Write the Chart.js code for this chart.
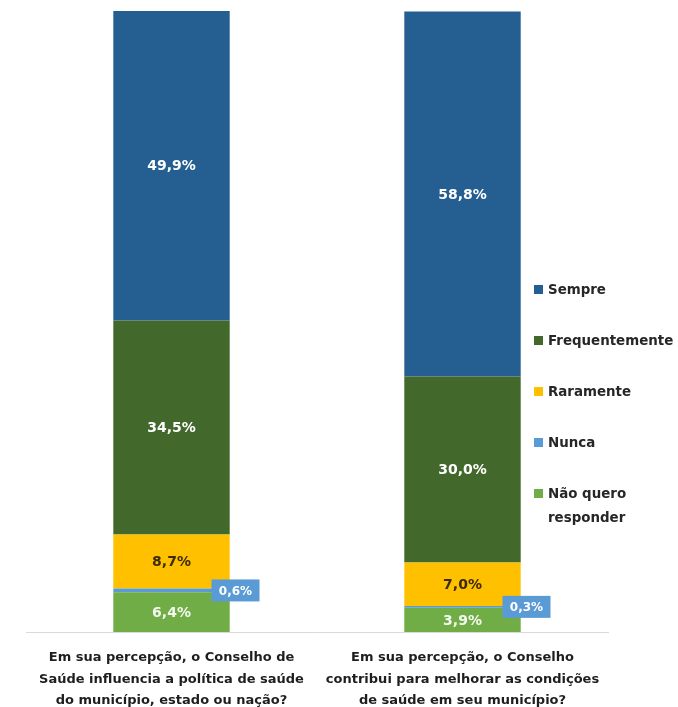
<!DOCTYPE html>
<html lang="pt-BR">
<head>
<meta charset="utf-8">
<title>Conselho de Saúde</title>
<script src="https://cdn.jsdelivr.net/npm/chart.js@4.4.1/dist/chart.umd.min.js"></script>
<style>
  html, body { margin: 0; padding: 0; background: #fff; }
  #wrap { position: relative; width: 678px; height: 707px; }
  #legend { position: absolute; left: 534px; top: 0; font-family: "DejaVu Sans", sans-serif; font-weight: bold; font-size: 13.4px; color: #262626; }
  #legend .item { position: absolute; left: 0; white-space: nowrap; line-height: 24px; }
  #legend .box { display: inline-block; width: 9px; height: 9px; margin-right: 5px; vertical-align: 0px; }
</style>
</head>
<body>
<div id="wrap">
  <canvas id="chart" width="678" height="707"></canvas>
  <div id="legend"></div>
</div>
<script>
/* ---------------- Data ---------------- */
const questions = [
  ['Em sua percepção, o Conselho de', 'Saúde influencia a política de saúde', 'do município, estado ou nação?'],
  ['Em sua percepção, o Conselho', 'contribui para melhorar as condições', 'de saúde em seu município?']
];
// stacked bottom -> top
const answers = ['Não quero responder', 'Nunca', 'Raramente', 'Frequentemente', 'Sempre'];
const naoQuero = [6.4, 3.9];
const nunca = [0.6, 0.3];
const raramente = [8.7, 7.0];
const frequentemente = [34.5, 30.0];
const sempre = [49.9, 58.8];
const colors = ['#70AD47', '#5B9BD5', '#FFC000', '#43682B', '#255E91'];
const labelColors = ['#f4f9ef', '#ffffff', '#3b2c05', '#ffffff', '#ffffff'];

const series = [naoQuero, nunca, raramente, frequentemente, sempre];
const FONT = '"DejaVu Sans", sans-serif';

/* ---------------- Value labels ---------------- */
const fmt = v => v.toFixed(1).replace('.', ',') + '%';

const valueLabels = {
  id: 'valueLabels',
  afterDatasetsDraw(chart) {
    const ctx = chart.ctx;
    ctx.save();
    ctx.font = 'bold 14px ' + FONT;
    ctx.textAlign = 'center';
    ctx.textBaseline = 'middle';
    chart.data.datasets.forEach((ds, i) => {
      const meta = chart.getDatasetMeta(i);
      meta.data.forEach((bar, j) => {
        const { x, y, base } = bar.getProps(['x', 'y', 'base'], true);
        const cy = (y + base) / 2;
        const text = fmt(ds.data[j]);
        if (answers[i] === 'Nunca') {
          // tiny slice: callout box to the right of the bar
          ctx.font = 'bold 12px ' + FONT;
          const bx = x + 64;
          ctx.fillStyle = colors[i];
          ctx.fillRect(bx - 24, cy - 11, 48, 22);
          ctx.fillStyle = '#ffffff';
          ctx.fillText(text, bx, cy + 1);
          ctx.font = 'bold 14px ' + FONT;
        } else {
          ctx.fillStyle = labelColors[i];
          ctx.fillText(text, x, cy + 1);
        }
      });
    });
    ctx.restore();
  }
};

/* ---------------- Chart ---------------- */
const ctx = document.getElementById('chart').getContext('2d');
const chart = new Chart(ctx, {
  type: 'bar',
  data: {
    labels: questions,
    datasets: answers.map((name, i) => ({
      label: name,
      data: series[i],
      backgroundColor: colors[i],
      borderWidth: 0,
      barPercentage: 0.8,
      categoryPercentage: 0.5
    }))
  },
  options: {
    responsive: false,
    animation: false,
    layout: { padding: { top: 11, left: 26, right: 70, bottom: 0 } },
    plugins: {
      legend: { display: false },
      tooltip: { enabled: false }
    },
    scales: {
      x: {
        stacked: true,
        grid: { display: false },
        border: { display: true, color: '#d9d9d9', width: 1 },
        afterFit: scale => { scale.height = 75; },
        ticks: {
          color: '#1e1e1e',
          padding: 7,
          maxRotation: 0,
          autoSkip: false,
          font: { family: FONT, weight: 'bold', size: 13, lineHeight: 1.66 }
        }
      },
      y: {
        stacked: true,
        display: false,
        min: 0,
        max: 100.1
      }
    }
  },
  plugins: [valueLabels]
});

/* ---------------- Legend (top -> bottom = Sempre first) ---------------- */
const legendEl = document.getElementById('legend');
const legendTops = [278, 329, 380, 431, 482];
answers.slice().reverse().forEach((name, k) => {
  const i = answers.length - 1 - k;
  const item = document.createElement('div');
  item.className = 'item';
  item.style.top = legendTops[k] + 'px';
  const box = document.createElement('span');
  box.className = 'box';
  box.style.backgroundColor = colors[i];
  item.appendChild(box);
  const txt = document.createElement('span');
  if (name === 'Não quero responder') {
    txt.innerHTML = 'Não quero<br><span style="padding-left:14px">responder</span>';
  } else {
    txt.textContent = name;
  }
  item.appendChild(txt);
  legendEl.appendChild(item);
});
</script>
</body>
</html>
